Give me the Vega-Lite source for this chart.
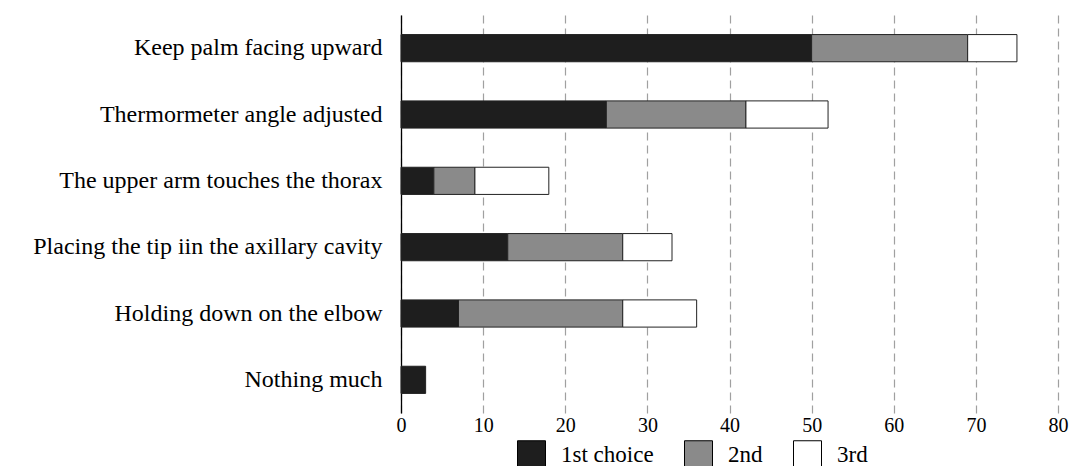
{
  "$schema": "https://vega.github.io/schema/vega-lite/v6.json",
  "width": 657,
  "height": 398,
  "autosize": {"type": "none"},
  "padding": {"left": 401, "top": 15, "right": 13, "bottom": 53},
  "background": "white",
  "config": {"view": {"stroke": null}, "font": "Liberation Serif"},
  "data": {
    "values": [
      {"item": "Keep palm facing upward", "choice": "1st choice", "rank": 1, "count": 50},
      {"item": "Keep palm facing upward", "choice": "2nd", "rank": 2, "count": 19},
      {"item": "Keep palm facing upward", "choice": "3rd", "rank": 3, "count": 6},
      {"item": "Thermormeter angle adjusted", "choice": "1st choice", "rank": 1, "count": 25},
      {"item": "Thermormeter angle adjusted", "choice": "2nd", "rank": 2, "count": 17},
      {"item": "Thermormeter angle adjusted", "choice": "3rd", "rank": 3, "count": 10},
      {"item": "The upper arm touches the thorax", "choice": "1st choice", "rank": 1, "count": 4},
      {"item": "The upper arm touches the thorax", "choice": "2nd", "rank": 2, "count": 5},
      {"item": "The upper arm touches the thorax", "choice": "3rd", "rank": 3, "count": 9},
      {"item": "Placing the tip iin the axillary cavity", "choice": "1st choice", "rank": 1, "count": 13},
      {"item": "Placing the tip iin the axillary cavity", "choice": "2nd", "rank": 2, "count": 14},
      {"item": "Placing the tip iin the axillary cavity", "choice": "3rd", "rank": 3, "count": 6},
      {"item": "Holding down on the elbow", "choice": "1st choice", "rank": 1, "count": 7},
      {"item": "Holding down on the elbow", "choice": "2nd", "rank": 2, "count": 20},
      {"item": "Holding down on the elbow", "choice": "3rd", "rank": 3, "count": 9},
      {"item": "Nothing much", "choice": "1st choice", "rank": 1, "count": 3}
    ]
  },
  "mark": {"type": "bar", "stroke": "#222222", "strokeWidth": 1},
  "encoding": {
    "y": {
      "field": "item",
      "type": "nominal",
      "title": null,
      "sort": ["Keep palm facing upward", "Thermormeter angle adjusted", "The upper arm touches the thorax", "Placing the tip iin the axillary cavity", "Holding down on the elbow", "Nothing much"],
      "scale": {"paddingInner": 0.59, "paddingOuter": 0.295},
      "axis": {
        "ticks": false,
        "grid": false,
        "domainColor": "#000000",
        "domainWidth": 1.3,
        "labelFont": "Liberation Serif",
        "labelFontSize": 24,
        "labelColor": "#000000",
        "labelPadding": 19,
        "labelLimit": 0
      }
    },
    "x": {
      "field": "count",
      "type": "quantitative",
      "stack": "zero",
      "title": null,
      "scale": {"domain": [0, 80], "nice": false},
      "axis": {
        "values": [0, 10, 20, 30, 40, 50, 60, 70, 80],
        "domain": false,
        "ticks": false,
        "grid": true,
        "gridColor": "#a0a0a0",
        "gridDash": [8, 5],
        "gridWidth": 1.2,
        "labelFont": "Liberation Serif",
        "labelFontSize": 20,
        "labelColor": "#000000",
        "labelPadding": 2,
        "labelFlush": false
      }
    },
    "color": {
      "field": "choice",
      "type": "nominal",
      "scale": {"domain": ["1st choice", "2nd", "3rd"], "range": ["#1e1e1e", "#8a8a8a", "#ffffff"]},
      "legend": {
        "orient": "none",
        "legendX": 116,
        "legendY": 425,
        "direction": "horizontal",
        "title": null,
        "symbolType": "square",
        "symbolSize": 784,
        "symbolStrokeColor": "#000000",
        "symbolStrokeWidth": 1,
        "symbolOpacity": 1,
        "labelFont": "Liberation Serif",
        "labelFontSize": 23,
        "labelColor": "#000000",
        "labelOffset": 15,
        "columnPadding": 28,
        "padding": 0
      }
    },
    "order": {"field": "rank", "type": "quantitative"}
  }
}
